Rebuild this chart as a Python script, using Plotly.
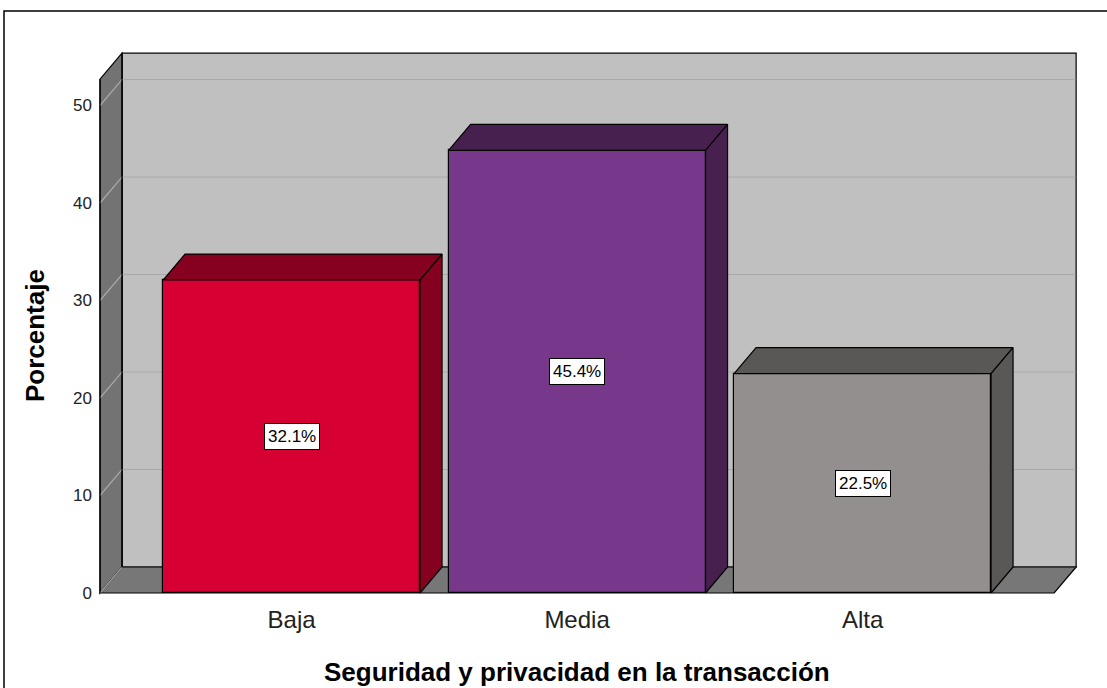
import plotly.graph_objects as go

# ---- data ----
categories = ["Baja", "Media", "Alta"]
percentages = [32.1, 45.4, 22.5]
y_ticks = [0, 10, 20, 30, 40, 50]
x_title = "Seguridad y privacidad en la transacción"
y_title = "Porcentaje"

front_colors = ["#d60032", "#77378b", "#938f8e"]
shade_colors = ["#860020", "#48204f", "#5a5857"]

# ---- geometry (pixel-calibrated scale) ----
W, H = 1107, 688
px_per_cat = 285.5
px_per_pct = 9.75
bar_w = 0.9
x_front_lo = -0.671            # front-left edge of the chart box (category units)
x_front_hi = 2.671
y_top_front = 52.7             # front top of the side wall (percent units)
dx = 22 / px_per_cat           # depth offset in category units
dy = 26 / px_per_pct           # depth offset in percent units
pad = 3

ml, mt, mb = 97, 50, 92
plot_w = 981
plot_h = H - mt - mb
mr = W - ml - plot_w
x_lo = x_front_lo - pad / px_per_cat
x_hi = x_lo + plot_w / px_per_cat
y_lo = 0 - pad / px_per_pct
y_hi = y_lo + plot_h / px_per_pct

xs = list(range(len(categories)))


def path(points):
    return "M " + " L ".join(f"{x},{y}" for x, y in points) + " Z"


shapes = []
wall_line = dict(color="black", width=1.2)
# back wall
shapes.append(dict(type="path", xref="x", yref="y", layer="below",
                   path=path([(x_front_lo + dx, dy), (x_front_hi + dx, dy),
                              (x_front_hi + dx, y_top_front + dy), (x_front_lo + dx, y_top_front + dy)]),
                   fillcolor="#c0c0c0", line=wall_line))
# left wall
shapes.append(dict(type="path", xref="x", yref="y", layer="below",
                   path=path([(x_front_lo, 0), (x_front_lo + dx, dy),
                              (x_front_lo + dx, y_top_front + dy), (x_front_lo, y_top_front)]),
                   fillcolor="#737373", line=wall_line))
# floor
shapes.append(dict(type="path", xref="x", yref="y", layer="below",
                   path=path([(x_front_lo, 0), (x_front_hi, 0),
                              (x_front_hi + dx, dy), (x_front_lo + dx, dy)]),
                   fillcolor="#777777", line=wall_line))
# gridlines (left wall diagonal + back wall horizontal)
for t in y_ticks:
    shapes.append(dict(type="path", xref="x", yref="y", layer="below",
                       path=f"M {x_front_lo},{t} L {x_front_lo + dx},{t + dy} L {x_front_hi + dx - 0.002},{t + dy}",
                       line=dict(color="#a9a9a9", width=1.2)))
# redraw wall inner edges over gridlines
shapes.append(dict(type="path", xref="x", yref="y", layer="below",
                   path=f"M {x_front_lo + dx},{y_top_front + dy} L {x_front_lo + dx},{dy} L {x_front_hi + dx},{dy}",
                   line=wall_line))
shapes.append(dict(type="path", xref="x", yref="y", layer="below",
                   path=f"M {x_front_lo},{0} L {x_front_lo},{y_top_front}",
                   line=wall_line))

# outer frame (top at y=11 px, left at x=4 px, open to the right/bottom edges)
shapes.append(dict(type="rect", xref="paper", yref="paper",
                   x0=(4 - ml) / plot_w, x1=(W + 5 - ml) / plot_w,
                   y0=-(mb + 20) / plot_h, y1=(H - mb - 11) / plot_h,
                   line=dict(color="black", width=1.5), fillcolor="rgba(0,0,0,0)", layer="above"))

fig = go.Figure()

# front faces
fig.add_trace(go.Bar(x=xs, y=percentages, width=bar_w,
                     marker=dict(color=front_colors, line=dict(color="black", width=1.2)),
                     hoverinfo="skip", showlegend=False))

# top and side faces
for x, v, c in zip(xs, percentages, shade_colors):
    l, r = x - bar_w / 2, x + bar_w / 2
    top = [(l, v), (r, v), (r + dx, v + dy), (l + dx, v + dy), (l, v)]
    side = [(r, 0), (r + dx, dy), (r + dx, v + dy), (r, v), (r, 0)]
    for poly in (top, side):
        fig.add_trace(go.Scatter(x=[p[0] for p in poly], y=[p[1] for p in poly],
                                 mode="lines", fill="toself", fillcolor=c,
                                 line=dict(color="black", width=1.2),
                                 hoverinfo="skip", showlegend=False))

annotations = []
for x, v in zip(xs, percentages):
    annotations.append(dict(x=x, y=v / 2, xref="x", yref="y", text=f"{v:.1f}%",
                            showarrow=False, bgcolor="white", bordercolor="black",
                            borderwidth=1, borderpad=3,
                            font=dict(size=17, color="black")))
annotations.append(dict(x=(x_front_lo + x_front_hi) / 2, y=-(669 - (H - mb - 3)) / plot_h,
                        xref="x", yref="paper", text=f"<b>{x_title}</b>", showarrow=False,
                        xanchor="center", yanchor="middle", font=dict(size=26, color="black")))
annotations.append(dict(x=(35 - ml) / plot_w, y=y_top_front / 2, xref="paper", yref="y",
                        text=f"<b>{y_title}</b>", showarrow=False, textangle=-90,
                        xanchor="center", yanchor="middle", font=dict(size=26, color="black")))

fig.update_layout(
    width=W, height=H,
    margin=dict(l=ml, r=mr, t=mt, b=mb, autoexpand=False),
    paper_bgcolor="white", plot_bgcolor="white",
    font=dict(family="Liberation Sans, Arial, sans-serif", color="black"),
    shapes=shapes, annotations=annotations, bargap=0,
    xaxis=dict(range=[x_lo, x_hi], tickvals=xs, ticktext=categories, showgrid=False,
               zeroline=False, showline=False, ticks="", ticklabelstandoff=7,
               tickfont=dict(size=24, color="#222222"), fixedrange=True),
    yaxis=dict(range=[y_lo, y_hi], tickvals=y_ticks, showgrid=False, zeroline=False,
               showline=False, ticks="", ticklabelstandoff=4,
               tickfont=dict(size=17, color="#222222"), fixedrange=True),
)

fig.write_html("out.html")
